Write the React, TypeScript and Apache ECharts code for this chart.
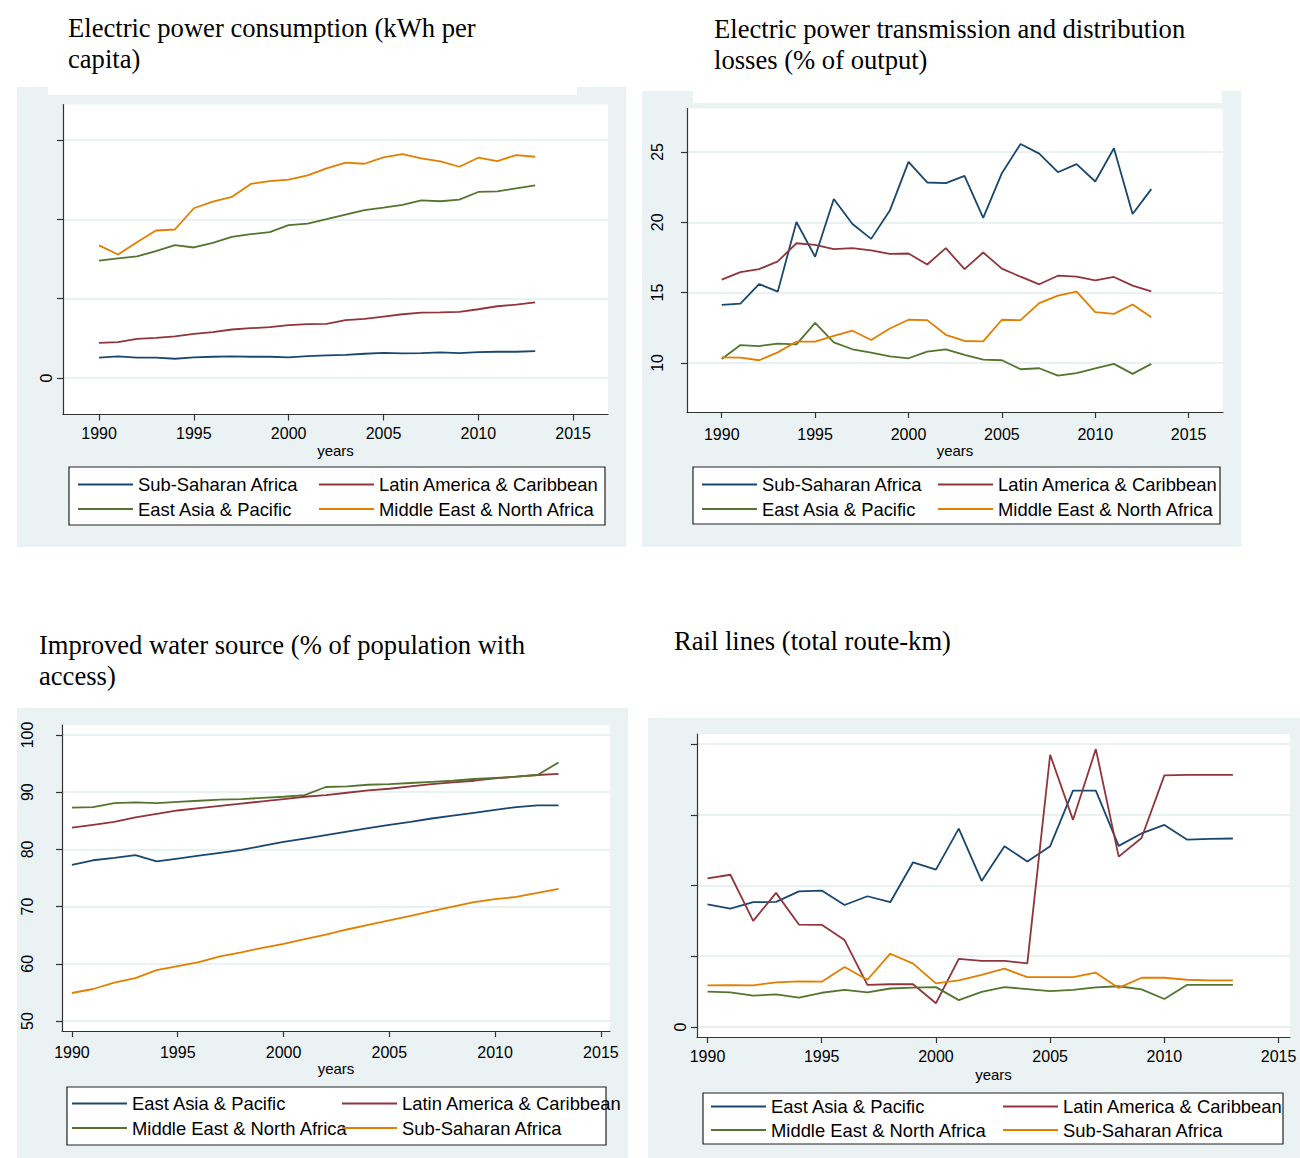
import { useEffect, useRef } from "react";
import * as echarts from "echarts";

// ---------- data ----------
const years = [1990, 1991, 1992, 1993, 1994, 1995, 1996, 1997, 1998, 1999, 2000, 2001, 2002, 2003, 2004, 2005, 2006, 2007, 2008, 2009, 2010, 2011, 2012, 2013];
const xTickYears = [1990, 1995, 2000, 2005, 2010, 2015];

// Panel 1: Electric power consumption (kWh per capita)
const p1Ticks = [0, 1000, 2000, 3000];
const p1Labels = [0];
const p1SSA = [256, 272, 256, 256, 243, 260, 268, 272, 268, 268, 260, 276, 285, 293, 306, 318, 310, 314, 323, 314, 327, 331, 331, 339];
const p1LAC = [444, 452, 494, 507, 524, 557, 578, 612, 628, 641, 666, 679, 683, 729, 746, 775, 804, 825, 829, 834, 867, 905, 926, 955];
const p1EAP = [1479, 1508, 1533, 1600, 1676, 1646, 1705, 1780, 1814, 1839, 1927, 1948, 2003, 2061, 2116, 2149, 2183, 2241, 2229, 2250, 2346, 2354, 2392, 2430];
const p1MENA = [1672, 1558, 1713, 1860, 1873, 2141, 2225, 2283, 2447, 2484, 2501, 2556, 2643, 2715, 2702, 2782, 2824, 2769, 2731, 2664, 2778, 2736, 2811, 2790];

// Panel 2: Electric power transmission and distribution losses (% of output)
const p2Ticks = [10, 15, 20, 25];
const p2SSA = [14.13, 14.22, 15.61, 15.07, 20.02, 17.55, 21.65, 19.88, 18.82, 20.83, 24.29, 22.83, 22.78, 23.3, 20.31, 23.49, 25.57, 24.88, 23.56, 24.13, 22.9, 25.26, 20.59, 22.36];
const p2LAC = [15.92, 16.46, 16.67, 17.22, 18.51, 18.4, 18.09, 18.16, 18.0, 17.76, 17.78, 17.0, 18.16, 16.67, 17.85, 16.7, 16.13, 15.59, 16.2, 16.13, 15.87, 16.11, 15.5, 15.09];
const p2EAP = [10.28, 11.27, 11.2, 11.37, 11.32, 12.85, 11.46, 10.97, 10.73, 10.47, 10.33, 10.8, 10.97, 10.57, 10.24, 10.19, 9.55, 9.62, 9.1, 9.27, 9.62, 9.93, 9.22, 9.93];
const p2MENA = [10.4, 10.38, 10.19, 10.75, 11.51, 11.51, 11.93, 12.29, 11.63, 12.45, 13.07, 13.04, 12.0, 11.56, 11.53, 13.07, 13.04, 14.25, 14.79, 15.07, 13.61, 13.49, 14.15, 13.25];

// Panel 3: Improved water source (% of population with access)
const p3Ticks = [50, 60, 70, 80, 90, 100];
const p3EAP = [77.3, 78.1, 78.5, 79.0, 77.9, 78.4, 78.9, 79.4, 79.9, 80.6, 81.3, 81.9, 82.5, 83.1, 83.7, 84.3, 84.8, 85.4, 85.9, 86.4, 86.9, 87.4, 87.7, 87.7];
const p3LAC = [83.8, 84.3, 84.8, 85.6, 86.2, 86.8, 87.2, 87.6, 88.0, 88.4, 88.8, 89.2, 89.5, 89.9, 90.3, 90.6, 91.0, 91.4, 91.7, 92.0, 92.4, 92.7, 93.0, 93.2];
const p3MENA = [87.3, 87.4, 88.1, 88.2, 88.1, 88.3, 88.5, 88.7, 88.8, 89.0, 89.2, 89.5, 90.9, 91.0, 91.3, 91.4, 91.6, 91.8, 92.0, 92.3, 92.5, 92.7, 93.0, 95.2];
const p3SSA = [54.9, 55.6, 56.7, 57.5, 58.9, 59.6, 60.3, 61.3, 62.0, 62.8, 63.5, 64.3, 65.1, 66.0, 66.8, 67.6, 68.4, 69.2, 70.0, 70.8, 71.3, 71.7, 72.4, 73.1];

// Panel 4: Rail lines (total route-km)
const p4Ticks = [0, 25000, 50000, 75000, 100000];
const p4Labels = [0];
const p4EAP = [43300, 41800, 44100, 44200, 47900, 48200, 43100, 46200, 44100, 58200, 55600, 70100, 51600, 63900, 58500, 63900, 83500, 83500, 64000, 68400, 71400, 66200, 66500, 66600];
const p4LAC = [52500, 53800, 37500, 47400, 36200, 36100, 30700, 14900, 15100, 15100, 8400, 24100, 23400, 23400, 22500, 96200, 73200, 98200, 60200, 66800, 88900, 89100, 89100, 89100];
const p4MENA = [12500, 12200, 11100, 11500, 10400, 12100, 13100, 12200, 13600, 13900, 14100, 9500, 12400, 14100, 13400, 12700, 13100, 14000, 14400, 13300, 9900, 14900, 14900, 14900];
const p4SSA = [14700, 14800, 14700, 15800, 16100, 16000, 21200, 16700, 25900, 22400, 15400, 16500, 18400, 20600, 17600, 17600, 17600, 19200, 13800, 17400, 17400, 16700, 16500, 16500];

const titles = [
  "Electric power consumption (kWh per\ncapita)",
  "Electric power transmission and distribution\nlosses (% of output)",
  "Improved water source (% of population with\naccess)",
  "Rail lines (total route-km)",
];

// ---------- style ----------
const SANS = "'Liberation Sans', Arial, sans-serif";
const SERIF = "'Liberation Serif', 'Times New Roman', serif";
const NAVY = "#1a476f";
const MAROON = "#90353b";
const GREEN = "#55752f";
const ORANGE = "#e37e00";
const BG = "#eaf2f3";
const AXIS = "#333333";

const grids = [
  { left: 63, top: 104.5, width: 545, height: 310 },
  { left: 687, top: 108.5, width: 536, height: 303.5 },
  { left: 62, top: 725, width: 548, height: 306 },
  { left: 697, top: 734, width: 593, height: 303 },
];

const xRanges = [
  [1988.1, 2016.84],
  [1988.14, 2016.84],
  [1989.53, 2015.43],
  [1989.54, 2015.5],
];
const yRanges = [
  [-460, 3449],
  [6.51, 28.09],
  [48.26, 101.74],
  [-3534, 103534],
];

function makeX(gi: number, labelMargin: number, nameGap: number) {
  return {
    type: "value",
    gridIndex: gi,
    min: xRanges[gi][0],
    max: xRanges[gi][1],
    name: "years",
    nameLocation: "middle",
    nameGap,
    nameTextStyle: { fontFamily: SANS, fontSize: 15, color: "#000" },
    axisLine: { show: true, onZero: false, lineStyle: { color: AXIS, width: 1.2 } },
    axisTick: { show: true, length: 6, customValues: xTickYears, lineStyle: { color: AXIS, width: 1.2 } },
    axisLabel: {
      show: true,
      customValues: xTickYears,
      fontFamily: SANS,
      fontSize: 16,
      color: "#000",
      margin: labelMargin,
      formatter: (v: number) => String(v),
    },
    splitLine: { show: false },
  };
}

function makeY(gi: number, ticks: number[], labels: number[], margin: number) {
  return {
    type: "value",
    gridIndex: gi,
    min: yRanges[gi][0],
    max: yRanges[gi][1],
    axisLine: { show: true, onZero: false, lineStyle: { color: AXIS, width: 1.2 } },
    axisTick: { show: true, length: 6, customValues: ticks, lineStyle: { color: AXIS, width: 1.2 } },
    axisLabel: {
      show: true,
      customValues: labels,
      rotate: 90,
      fontFamily: SANS,
      fontSize: 16,
      color: "#000",
      margin,
      formatter: (v: number) => String(v),
    },
    splitLine: { show: true, lineStyle: { color: "#e3ecee", width: 1.6 } },
  };
}

function makeSeries(gi: number, name: string, values: number[], color: string) {
  return {
    type: "line",
    name: `p${gi + 1}|${name}`,
    xAxisIndex: gi,
    yAxisIndex: gi,
    data: years.map((y, i) => [y, values[i]]),
    symbol: "none",
    color,
    itemStyle: { color },
    lineStyle: { color, width: 1.8 },
    silent: true,
  };
}

function makeLegend(gi: number, names: string[], left: number, top: number, gap: number) {
  return {
    show: true,
    data: names.map((n) => `p${gi + 1}|${n}`),
    orient: "vertical",
    left,
    top,
    padding: 0,
    itemGap: gap,
    itemWidth: 55,
    itemHeight: 2,
    icon: "rect",
    selectedMode: false,
    formatter: (n: string) => n.split("|")[1],
    textStyle: { fontFamily: SANS, fontSize: 18.4, color: "#000" },
  };
}

const SSA = "Sub-Saharan Africa";
const LAC = "Latin America & Caribbean";
const EAP = "East Asia & Pacific";
const MENA = "Middle East & North Africa";

const option = {
  animation: false,
  backgroundColor: "#ffffff",
  title: [
    { text: titles[0], left: 68, top: 12 },
    { text: titles[1], left: 714, top: 13 },
    { text: titles[2], left: 39, top: 629 },
    { text: titles[3], left: 674, top: 625 },
  ].map((t) => ({
    ...t,
    padding: 0,
    textStyle: { fontFamily: SERIF, fontSize: 26.6, fontWeight: "normal", color: "#000", lineHeight: 31 },
  })),
  graphic: [
    { type: "rect", z: -10, shape: { x: 17, y: 87, width: 609, height: 460 }, style: { fill: BG } },
    { type: "rect", z: -9, shape: { x: 48, y: 87, width: 529, height: 8 }, style: { fill: "#fff" } },
    { type: "rect", z: -10, shape: { x: 642, y: 91, width: 599, height: 456 }, style: { fill: BG } },
    { type: "rect", z: -9, shape: { x: 693, y: 91, width: 529, height: 12 }, style: { fill: "#fff" } },
    { type: "rect", z: -10, shape: { x: 17, y: 708, width: 611, height: 450 }, style: { fill: BG } },
    { type: "rect", z: -10, shape: { x: 648, y: 718, width: 652, height: 440 }, style: { fill: BG } },
    { type: "rect", z: 1, shape: { x: 69, y: 467, width: 536, height: 58 }, style: { fill: "#fff", stroke: "#222", lineWidth: 1.2 } },
    { type: "rect", z: 1, shape: { x: 693, y: 467, width: 527, height: 57 }, style: { fill: "#fff", stroke: "#222", lineWidth: 1.2 } },
    { type: "rect", z: 1, shape: { x: 67, y: 1087, width: 539, height: 58 }, style: { fill: "#fff", stroke: "#222", lineWidth: 1.2 } },
    { type: "rect", z: 1, shape: { x: 703, y: 1093, width: 580, height: 51 }, style: { fill: "#fff", stroke: "#222", lineWidth: 1.2 } },
  ],
  grid: grids.map((g) => ({ ...g, show: true, backgroundColor: "#fff", borderWidth: 0, containLabel: false })),
  xAxis: [makeX(0, 11, 28), makeX(1, 14, 31), makeX(2, 13, 30), makeX(3, 11, 30)],
  yAxis: [
    makeY(0, p1Ticks, p1Labels, 9),
    makeY(1, p2Ticks, p2Ticks, 22),
    makeY(2, p3Ticks, p3Ticks, 27),
    makeY(3, p4Ticks, p4Labels, 9),
  ],
  legend: [
    makeLegend(0, [SSA, EAP], 78, 475.5, 6.5),
    makeLegend(0, [LAC, MENA], 319, 475.5, 6.5),
    makeLegend(1, [SSA, EAP], 702, 475.5, 6.5),
    makeLegend(1, [LAC, MENA], 938, 475.5, 6.5),
    makeLegend(2, [EAP, MENA], 72, 1094.5, 6.5),
    makeLegend(2, [LAC, SSA], 342, 1094.5, 6.5),
    makeLegend(3, [EAP, MENA], 711, 1097.5, 5.5),
    makeLegend(3, [LAC, SSA], 1003, 1097.5, 5.5),
  ],
  series: [
    makeSeries(0, SSA, p1SSA, NAVY),
    makeSeries(0, LAC, p1LAC, MAROON),
    makeSeries(0, EAP, p1EAP, GREEN),
    makeSeries(0, MENA, p1MENA, ORANGE),
    makeSeries(1, SSA, p2SSA, NAVY),
    makeSeries(1, LAC, p2LAC, MAROON),
    makeSeries(1, EAP, p2EAP, GREEN),
    makeSeries(1, MENA, p2MENA, ORANGE),
    makeSeries(2, EAP, p3EAP, NAVY),
    makeSeries(2, LAC, p3LAC, MAROON),
    makeSeries(2, MENA, p3MENA, GREEN),
    makeSeries(2, SSA, p3SSA, ORANGE),
    makeSeries(3, EAP, p4EAP, NAVY),
    makeSeries(3, LAC, p4LAC, MAROON),
    makeSeries(3, MENA, p4MENA, GREEN),
    makeSeries(3, SSA, p4SSA, ORANGE),
  ],
};

export default function App() {
  const ref = useRef<HTMLDivElement>(null);
  useEffect(() => {
    const chart = echarts.init(ref.current!, null, { renderer: "svg" });
    chart.setOption(option as any);
    return () => chart.dispose();
  }, []);
  return (
    <div
      ref={ref}
      style={{ position: "absolute", left: 0, top: 0, width: 1300, height: 1158 }}
    />
  );
}
